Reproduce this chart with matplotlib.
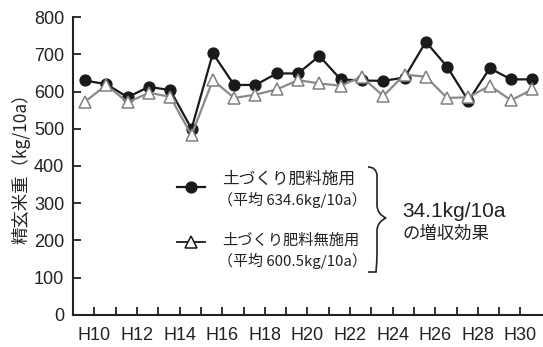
import matplotlib
matplotlib.use('Agg')
import matplotlib.pyplot as plt
from matplotlib.path import Path
from matplotlib.patches import PathPatch

plt.rcParams['font.family'] = ['Liberation Sans', 'Noto Sans CJK JP']

years = ['H%d' % y for y in range(10, 32)]
with_fert = [630, 620, 585, 613, 604, 500, 703, 618, 618, 649, 649,
             696, 633, 630, 629, 638, 734, 667, 575, 663, 633, 633]
no_fert = [573, 618, 571, 597, 586, 483, 631, 583, 592, 606, 631,
           622, 616, 640, 588, 646, 640, 583, 585, 616, 577, 606]
tick_labels = years[::2]

W, H = 543, 347
fig = plt.figure(figsize=(W / 100, H / 100), dpi=100)
ax = fig.add_axes([72.7 / W, 1 - 314.7 / H, 1 - 72.7 / W, (314.7 - 17.3) / H])

x = list(range(len(years)))
ax.plot(x, with_fert, color='#1a1a1a', lw=1.6, marker='o', ms=7.8,
        mfc='#1a1a1a', mec='#1a1a1a', zorder=3)
ax.plot(x, no_fert, color='#8a8a8a', lw=1.6, marker='^', ms=9,
        mfc='white', mec='#808080', mew=1.1, zorder=4)

ax.set_ylim(0, 800)
ax.set_xlim(-0.58, 21.5)
ax.set_yticks(range(0, 801, 100))
ax.set_xticks([i + 0.44 for i in range(21)])
ax.set_xticklabels([years[i] if i % 2 == 0 else '' for i in range(21)])
ax.tick_params(axis='both', direction='in', length=6, width=1.3,
               labelsize=13, color='#222222', labelcolor='#222222')
ax.tick_params(axis='x', pad=9)
ax.tick_params(axis='y', pad=6)
for s in ['top', 'right']:
    ax.spines[s].set_visible(False)
for s in ['left', 'bottom']:
    ax.spines[s].set_linewidth(1.5)
    ax.spines[s].set_color('#222222')

fig.text(21 / W, 1 - 164 / H, '精玄米重（kg/10a）', rotation=90,
         ha='center', va='center', fontsize=12.5, color='#222222',
         family=['Noto Sans CJK JP'])

# legend drawn by hand
def px(xp, yp):
    return xp / W, 1 - yp / H

fig.add_artist(plt.Line2D([176.7 / W, 205 / W], [1 - 186.7 / H] * 2,
                          color='#1a1a1a', lw=1.6, marker=None))
fig.add_artist(plt.Line2D([190.7 / W], [1 - 186.7 / H], color='#1a1a1a',
                          marker='o', ms=7.8))
fig.add_artist(plt.Line2D([176.7 / W, 205 / W], [1 - 242.3 / H] * 2,
                          color='#1a1a1a', lw=1.3))
fig.add_artist(plt.Line2D([190.7 / W], [1 - 242.3 / H], color='#1a1a1a',
                          marker='^', ms=9, mfc='white', mec='#1a1a1a', mew=1.1))

cjk = ['Noto Sans CJK JP']
fig.text(*px(222, 179), '土づくり肥料施用', fontsize=12, va='center',
         family=cjk, color='#222222')
fig.text(*px(218, 200), '（平均 634.6kg/10a）', fontsize=10.8, va='center',
         family=cjk, color='#222222')
fig.text(*px(222, 240), '土づくり肥料無施用', fontsize=11, va='center',
         family=cjk, color='#222222')
fig.text(*px(218, 261), '（平均 600.5kg/10a）', fontsize=10.8, va='center',
         family=cjk, color='#222222')

# brace
pts = [(368, 167), (376, 167), (377, 175), (377, 182),
       (377, 205), (377, 214), (386, 218),
       (377, 222), (377, 231), (377, 254),
       (377, 261), (376, 272), (368, 272)]
codes = [Path.MOVETO, Path.CURVE3, Path.CURVE3, Path.LINETO,
         Path.LINETO, Path.CURVE3, Path.CURVE3,
         Path.CURVE3, Path.CURVE3, Path.LINETO,
         Path.CURVE3, Path.CURVE3, Path.LINETO]
brace = PathPatch(Path([px(a, b) for a, b in pts], codes), fill=False,
                  lw=1.2, ec='#222222', transform=fig.transFigure)
fig.add_artist(brace)

fig.text(*px(402, 212), '34.1kg/10a', fontsize=15, va='center',
         family=['Liberation Sans', 'Noto Sans CJK JP'], color='#222222')
fig.text(*px(402, 234), 'の増収効果', fontsize=12.5, va='center',
         family=cjk, color='#222222')

fig.savefig('out.png', dpi=100)
